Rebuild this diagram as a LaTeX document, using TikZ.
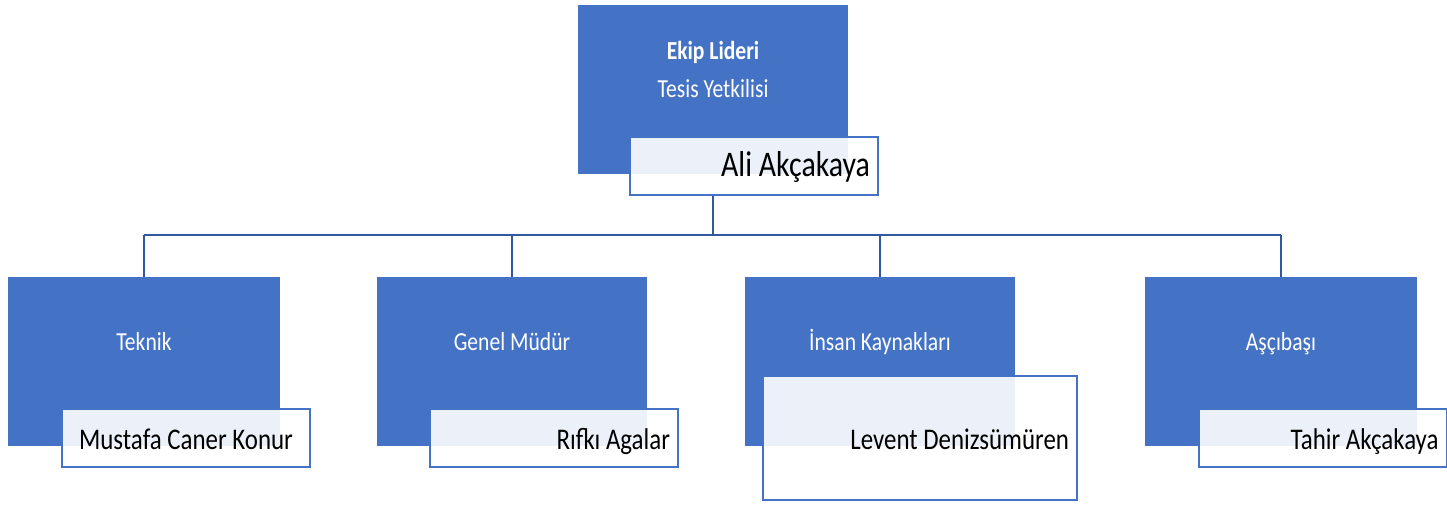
\documentclass[tikz,border=0pt]{standalone}
\usepackage{fontspec}
\setmainfont{Carlito}[FakeStretch=0.83]
\usetikzlibrary{positioning}
\definecolor{boxblue}{RGB}{68,114,196}
\definecolor{lineblue}{RGB}{50,88,158}

\tikzset{
  unit/.style={fill=boxblue, draw=none, minimum width=135pt, minimum height=84.5pt, inner sep=0pt},
  unittext/.style={text=white, font=\fontsize{13}{19}\selectfont, align=center, inner sep=0pt, text height=9pt, text depth=3pt},
  namebox/.style={draw=boxblue, line width=1pt, fill=white, fill opacity=0.9, text opacity=1,
    minimum width=124pt, minimum height=29pt, inner xsep=4pt, inner ysep=0pt,
    text width=116pt, align=flush right, font=\fontsize{15}{18}\selectfont, text height=12pt, text depth=1pt},
  conn/.style={draw=lineblue, line width=1.3pt}
}

\begin{document}
\begin{tikzpicture}[x=0.5pt,y=-0.5pt]
  \useasboundingbox (0,0) rectangle (1447,504);
  %Top unit
  \node[unit] (lider) at (713,89) {};
  \node[unittext] (liderT) at (713,91) {\textbf{Ekip Lideri}\\Tesis Yetkilisi};
  \node[namebox, font=\fontsize{18}{21}\selectfont] (ali) at (754,165.5) {Ali Akçakaya};
  %Units below
  \node[unit, minimum width=136pt] (teknik) at (144,361.5) {};
  \node[unit] (genel) at (512,361.5) {};
  \node[unit] (insan) at (880,361.5) {};
  \node[unit, minimum width=136pt] (asci) at (1281,361.5) {};
  \node[unittext] (teknikT) at (144,344) {Teknik};
  \node[unittext] (genelT) at (512,344) {Genel Müdür};
  \node[unittext] (insanT) at (880,344) {İnsan Kaynakları};
  \node[unittext] (asciT) at (1281,344) {Aşçıbaşı};
  %Names
  \node[namebox, align=flush center] (mustafa) at (186,438) {Mustafa Caner Konur};
  \node[namebox] (rifki) at (554,438) {Rıfkı Agalar};
  \node[namebox, minimum width=157pt, text width=149pt, minimum height=62pt] (levent) at (920,438) {Levent Denizsümüren};
  \node[namebox] (tahir) at (1322.5,438) {Tahir Akçakaya};
  %Lines
  \coordinate (bus) at (0,235);
  \draw[conn] (lider.south |- ali.south) -- (lider.south |- bus);
  \draw[conn] (teknik.north |- bus) -- (asci.north |- bus);
  \foreach \n in {teknik,genel,insan,asci}
    \draw[conn] (\n.north |- bus) -- (\n.north);
\end{tikzpicture}
\end{document}
